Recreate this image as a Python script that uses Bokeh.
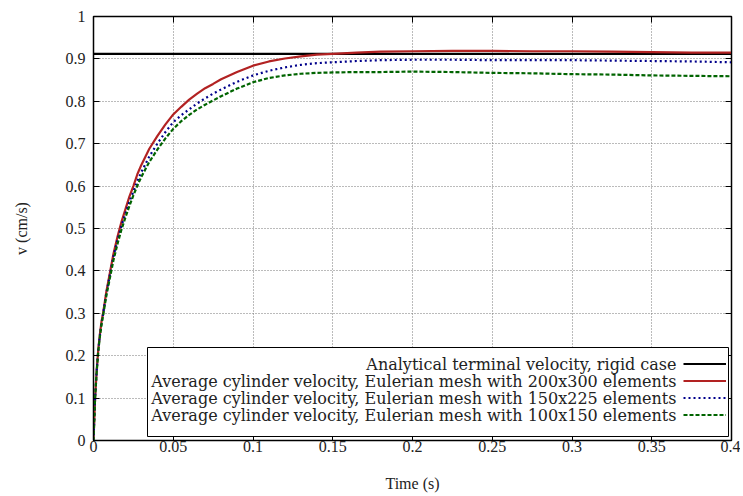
from bokeh.plotting import figure
from bokeh.models import (FixedTicker, LinearAxis, Legend, LegendItem, Range1d,
                          BoxAnnotation, Label)
from bokeh.embed import file_html
from bokeh.resources import INLINE

t = [0, 0.001, 0.002, 0.003, 0.004, 0.005, 0.006, 0.008, 0.010, 0.0125, 0.015, 0.0175,
     0.02, 0.0225, 0.025, 0.0275, 0.03, 0.035, 0.04, 0.045, 0.05, 0.055, 0.06, 0.065,
     0.07, 0.075, 0.08, 0.09, 0.1, 0.11, 0.12, 0.13, 0.14, 0.15, 0.165, 0.18, 0.2,
     0.225, 0.25, 0.275, 0.3, 0.325, 0.35, 0.375, 0.4]
v_200x300 = [0, 0.100, 0.165, 0.215, 0.250, 0.280, 0.300, 0.350, 0.390, 0.440, 0.480, 0.515,
             0.545, 0.575, 0.600, 0.628, 0.650, 0.688, 0.718, 0.745, 0.769, 0.787, 0.804, 0.818,
             0.831, 0.841, 0.852, 0.869, 0.884, 0.894, 0.901, 0.906, 0.910, 0.912, 0.915, 0.917, 0.918,
             0.919, 0.919, 0.918, 0.918, 0.917, 0.916, 0.915, 0.915]
v_150x225 = [0, 0.100, 0.165, 0.213, 0.248, 0.277, 0.298, 0.346, 0.385, 0.434, 0.472, 0.506,
             0.535, 0.563, 0.587, 0.612, 0.633, 0.670, 0.700, 0.727, 0.751, 0.767, 0.781, 0.795,
             0.807, 0.818, 0.828, 0.846, 0.861, 0.872, 0.880, 0.886, 0.890, 0.892, 0.895, 0.897, 0.898,
             0.898, 0.897, 0.897, 0.897, 0.896, 0.895, 0.894, 0.892]
v_100x150 = [0, 0.100, 0.162, 0.210, 0.245, 0.273, 0.294, 0.340, 0.378, 0.425, 0.463, 0.497,
             0.526, 0.553, 0.578, 0.601, 0.622, 0.657, 0.686, 0.712, 0.735, 0.753, 0.768, 0.781,
             0.792, 0.802, 0.812, 0.830, 0.845, 0.855, 0.861, 0.865, 0.867, 0.868, 0.869, 0.869, 0.870,
             0.869, 0.867, 0.866, 0.864, 0.863, 0.861, 0.860, 0.859]
terminal_t = [0, 0.4]
terminal_v = [0.912, 0.912]

x_ticks = [0, 0.05, 0.1, 0.15, 0.2, 0.25, 0.3, 0.35, 0.4]
x_labels = ["0", "0.05", "0.1", "0.15", "0.2", "0.25", "0.3", "0.35", "0.4"]
y_ticks = [0, 0.1, 0.2, 0.3, 0.4, 0.5, 0.6, 0.7, 0.8, 0.9, 1.0]
y_labels = ["0", "0.1", "0.2", "0.3", "0.4", "0.5", "0.6", "0.7", "0.8", "0.9", "1"]

labels = [
    "Analytical terminal velocity, rigid case",
    "Average cylinder velocity, Eulerian mesh with 200x300 elements",
    "Average cylinder velocity, Eulerian mesh with 150x225 elements",
    "Average cylinder velocity, Eulerian mesh with 100x150 elements",
]

FONT = "Liberation Serif"
LFONT = "DejaVu Serif"

p = figure(width=740, height=496, output_backend="svg", toolbar_location=None,
           x_range=Range1d(0, 0.4), y_range=Range1d(0, 1),
           min_border_left=93, min_border_right=9, min_border_top=16, min_border_bottom=56)

p.outline_line_color = "black"
p.outline_line_width = 1.5

for ax, ticks, labs in ((p.xaxis[0], x_ticks, x_labels), (p.yaxis[0], y_ticks, y_labels)):
    ax.ticker = FixedTicker(ticks=ticks)
    ax.major_label_overrides = {tk: lb for tk, lb in zip(ticks, labs)}
    ax.major_tick_in = 6
    ax.major_tick_out = 0
    ax.minor_tick_in = 0
    ax.minor_tick_out = 0
    ax.axis_line_color = "black"
    ax.major_label_text_font = FONT
    ax.major_label_text_font_size = "16px"
    ax.major_label_text_color = "#222222"
    ax.axis_label_text_font = FONT
    ax.axis_label_text_font_size = "16px"
    ax.axis_label_text_font_style = "normal"
    ax.axis_label_text_color = "#222222"

p.xaxis[0].axis_label = "Time (s)"
p.yaxis[0].axis_label = "v (cm/s)"
p.xaxis[0].major_label_standoff = 0
p.xaxis[0].axis_label_standoff = 20
p.yaxis[0].major_label_standoff = 8
p.yaxis[0].axis_label_standoff = 33

top = LinearAxis(ticker=FixedTicker(ticks=x_ticks),
                 major_label_overrides={tk: "" for tk in x_ticks},
                 major_tick_in=6, major_tick_out=0, minor_tick_in=0, minor_tick_out=0,
                 major_label_standoff=0)
right = LinearAxis(ticker=FixedTicker(ticks=y_ticks),
                   major_label_overrides={tk: "" for tk in y_ticks},
                   major_tick_in=6, major_tick_out=0, minor_tick_in=0, minor_tick_out=0,
                   major_label_standoff=0)
p.add_layout(top, "above")
p.add_layout(right, "right")

for g in (p.xgrid[0], p.ygrid[0]):
    g.grid_line_color = "#777777"
    g.grid_line_dash = "1 2"
    g.grid_line_width = 1
p.xgrid[0].ticker = FixedTicker(ticks=x_ticks)
p.ygrid[0].ticker = FixedTicker(ticks=y_ticks)

r0 = p.line(terminal_t, terminal_v, line_color="black", line_width=2.2)
r1 = p.line(t, v_200x300, line_color="#b22222", line_width=2.2)
r2 = p.line(t, v_150x225, line_color="#00008b", line_width=2.2, line_dash="2 3")
r3 = p.line(t, v_100x150, line_color="#006400", line_width=2.2, line_dash="4 2")

# gnuplot-style key: framed box, right-aligned labels, line samples on the right
# (screen units measured from the plot frame's bottom-left corner)
box = BoxAnnotation(left=54, right=635, bottom=4, top=93,
                    left_units="screen", right_units="screen",
                    bottom_units="screen", top_units="screen",
                    fill_color="white", fill_alpha=1,
                    line_color="black", line_width=1, line_alpha=1)
p.add_layout(box)

ROW_TOP = 76
ROW_STEP = 17
for i, lab in enumerate(labels):
    p.add_layout(Label(x=583, y=ROW_TOP - i * ROW_STEP, x_units="screen", y_units="screen",
                       text=lab, text_align="right", text_baseline="middle",
                       text_font=LFONT, text_font_size="16px", text_color="#222222"))

samples = Legend(items=[LegendItem(label="", renderers=[r]) for r in [r0, r1, r2, r3]],
                 location=(590, 17.5))
samples.glyph_height = ROW_STEP
samples.label_height = ROW_STEP
samples.glyph_width = 43
samples.label_width = 0
samples.label_standoff = 0
samples.spacing = 0
samples.padding = 0
samples.margin = 0
samples.border_line_color = None
samples.background_fill_alpha = 0
p.add_layout(samples, "center")

open("out.html", "w").write(file_html(p, INLINE))
